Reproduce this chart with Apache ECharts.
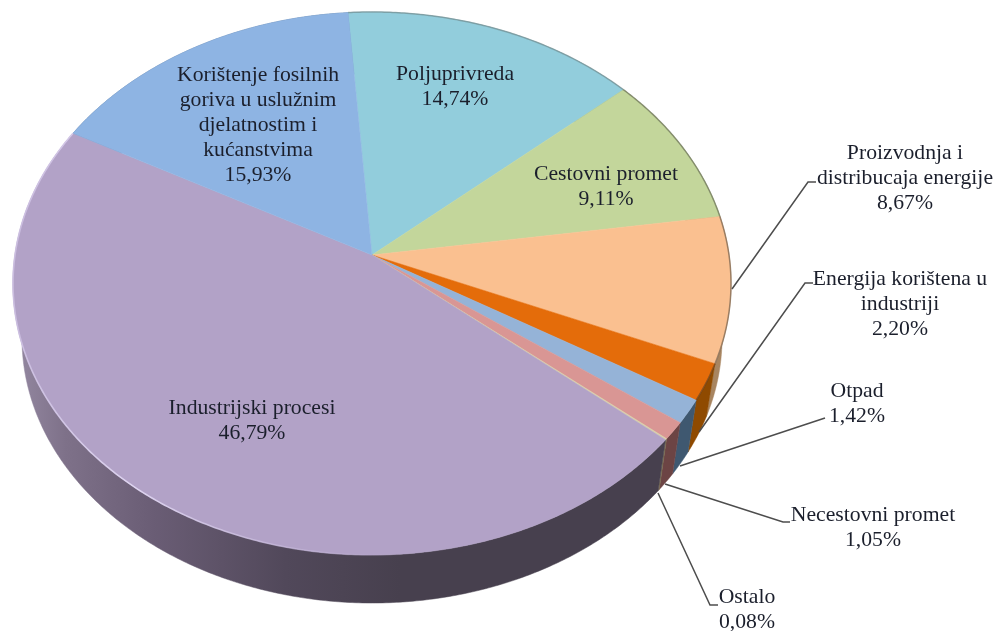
<!DOCTYPE html>
<html>
<head>
<meta charset="utf-8">
<style>html,body{margin:0;padding:0;background:#fff}#c{width:996px;height:631px}</style>
<script src="https://cdn.jsdelivr.net/npm/echarts@6/dist/echarts.min.js"></script>
</head>
<body>
<div id="c"></div>
<script>
// Data
var categories = ['Poljuprivreda','Cestovni promet','Proizvodnja i\ndistribucaja energije','Energija korištena u\nindustriji','Otpad','Necestovni promet','Ostalo','Industrijski procesi','Korištenje fosilnih\ngoriva u uslužnim\ndjelatnostim i\nkućanstvima'];
var values = [14.74, 9.11, 8.67, 2.20, 1.42, 1.05, 0.08, 46.79, 15.93];

// Styles
var faceColors = ['#92cddc','#c3d69b','#fac090','#e46c0a','#95b3d7','#d99694','#d8cfa8','#b2a2c7','#8eb4e3'];
var wallColors = ['#5f8c98','#7f8f60','#a88560','#8f4a00','#3f5870','#6c4444','#7a6f50',null,'#5a7aa0'];
var edgeColors = ['rgba(110,130,130,0.55)','rgba(110,115,90,0.7)','rgba(120,100,80,0.7)','rgba(90,60,30,0.6)',null,null,null,null,null];

// Label layout: centre x, first line centre y
var labelPos = [[455,74],[606,174],[905,153],[900,279],[857,391],[873,515],[747,597],[252,408],[258,75]];
// Leader lines, as page positions of the callouts
var leaders = [null,null,
  [[732,289],[808,182],[816,182]],
  [[699,432],[805,283],[813,283]],
  [[680,466],[825,418]],
  [[665,484],[783,522],[790,522]],
  [[658,493],[710,605],[718,605]],
  null,null];

// Projection of the disc
var cx = 372, cy = 255, A = 357, B = 268.5, P = 0.105, startDeg = -4.24;
var depthDy = 55.5, depthScale = 0.975;

function project(deg, lower) {
  var t = deg * Math.PI / 180, u = Math.sin(t), v = Math.cos(t), d = 1 + P * v;
  var x = A * u / d, y = -B * v / d;
  if (lower) return [cx + x * depthScale, cy + depthDy + y * depthScale];
  return [cx + x, cy + y];
}
function arc(a0, a1, lower) {
  var n = Math.max(2, Math.ceil(Math.abs(a1 - a0) / 0.5)), out = [];
  for (var i = 0; i <= n; i++) out.push(project(a0 + (a1 - a0) * i / n, lower));
  return out;
}
var total = values.reduce(function (s, v) { return s + v; }, 0);
var starts = [], acc = startDeg;
values.forEach(function (v) { starts.push(acc); acc += v / total * 360; });
function pct(v) { return v.toFixed(2).replace('.', ',') + '%'; }

var FONT = '21.7px "Liberation Serif","Times New Roman",serif';
var INK = '#1b1f2c';

function renderItem(params, api) {
  var i = params.dataIndex, a0 = starts[i], a1 = a0 + api.value(0) / total * 360;
  var top = arc(a0, a1, false), children = [];
  var wallFill = wallColors[i] || new echarts.graphic.LinearGradient(20, 0, 400, 0, [
    {offset: 0, color: '#92869f'}, {offset: 0.12, color: '#7e7189'}, {offset: 0.35, color: '#6a5d75'},
    {offset: 0.7, color: '#51485a'}, {offset: 1, color: '#47404e'}
  ], true);
  children.push({type: 'polygon', z2: 1, shape: {points: top.concat(arc(a1, a0, true))},
    style: {fill: wallFill, stroke: wallFill, lineWidth: 0.5}});
  children.push({type: 'polygon', z2: 2, shape: {points: [[cx, cy]].concat(top)},
    style: {fill: faceColors[i], stroke: faceColors[i], lineWidth: 0.5}});
  if (edgeColors[i]) {
    children.push({type: 'polyline', z2: 3, shape: {points: top},
      style: {fill: null, stroke: edgeColors[i], lineWidth: 1.5}});
  }
  if (!wallColors[i]) {
    children.push({type: 'polyline', z2: 3, shape: {points: top},
      style: {fill: null, lineWidth: 1.6, stroke: new echarts.graphic.LinearGradient(14, 0, 420, 0, [
        {offset: 0, color: 'rgba(205,192,226,0.9)'}, {offset: 0.3, color: 'rgba(222,212,240,1)'},
        {offset: 0.75, color: 'rgba(200,186,222,0.5)'}, {offset: 1, color: 'rgba(178,162,199,0)'}
      ], true)}});
  }
  if (leaders[i]) {
    children.push({type: 'polyline', z2: 4, shape: {points: leaders[i]},
      style: {fill: null, stroke: '#4d4d4d', lineWidth: 1.5}});
  }
  children.push({type: 'text', z2: 5, style: {
    text: categories[i] + '\n' + pct(api.value(0)), x: labelPos[i][0], y: labelPos[i][1] - 12.5,
    align: 'center', verticalAlign: 'top', font: FONT, fill: INK, lineHeight: 25
  }});
  return {type: 'group', children: children};
}

var chart = echarts.init(document.getElementById('c'), null, {renderer: 'canvas'});
chart.setOption({
  animation: false,
  backgroundColor: '#fff',
  series: [{
    type: 'custom',
    coordinateSystem: 'none',
    renderItem: renderItem,
    data: values.map(function (v) { return [v]; }),
    silent: true
  }]
});
</script>
</body>
</html>
